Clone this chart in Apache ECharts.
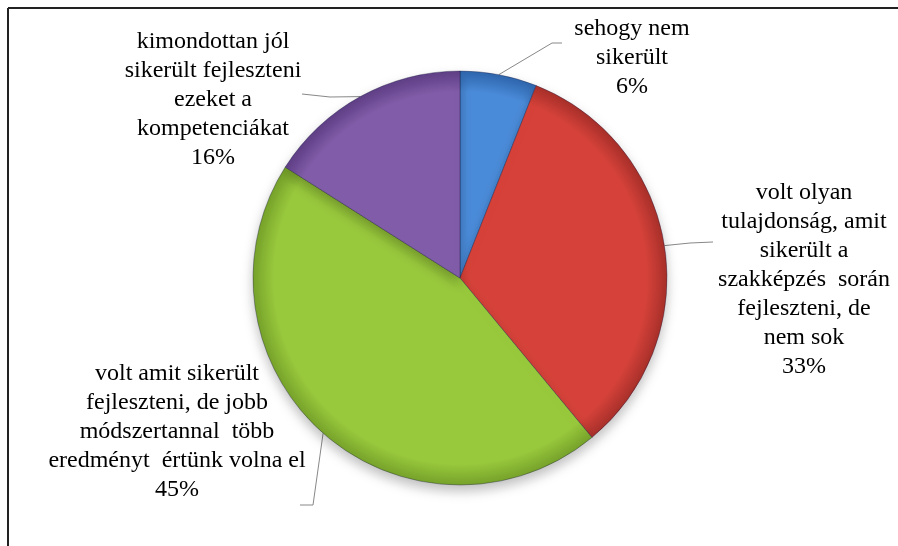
<!DOCTYPE html>
<html>
<head>
<meta charset="utf-8">
<script src="https://cdn.jsdelivr.net/npm/echarts@6/dist/echarts.min.js"></script>
<style>
  html, body { margin: 0; padding: 0; background: #fff; }
  #chart { width: 898px; height: 546px; }
</style>
</head>
<body>
<div id="chart"></div>
<script>
// kategóriák (sortörésekkel, ahogy a képen) és értékek
const categories = [
  'sehogy nem\nsikerült',
  'volt olyan\ntulajdonság, amit\nsikerült a\nszakképzés  során\nfejleszteni, de\nnem sok',
  'volt amit sikerült\nfejleszteni, de jobb\nmódszertannal  több\neredményt  értünk volna el',
  'kimondottan jól\nsikerült fejleszteni\nezeket a\nkompetenciákat'
];
const values = [6, 33, 45, 16];
const baseColors = ['#4a8bd9', '#d6423a', '#98c83c', '#815ca8'];
const darkColors = ['#2f66ad', '#a8302a', '#76a22a', '#5f3f86'];

// címkék középpontja és a vezetővonalak további pontjai
const labelPos = [[632, 58], [804, 280], [177, 432], [213, 100]];
const leaderPts = [
  [[552, 43], [562, 43]],
  [[690, 243], [713, 242]],
  [[313, 505], [300, 505]],
  [[330, 97], [302, 94]]
];

const cx = 460, cy = 278, r = 207;
const lineH = 29;

const chart = echarts.init(document.getElementById('chart'));

// címkeszöveg soronként, talpas betűvel
const labelTexts = [];
categories.forEach((name, i) => {
  const lines = name.split('\n').concat([values[i] + '%']);
  const n = lines.length;
  lines.forEach((l, k) => {
    labelTexts.push({
      type: 'text',
      x: labelPos[i][0],
      y: labelPos[i][1] + (k - (n - 1) / 2) * lineH,
      z: 10,
      style: {
        text: l,
        fontFamily: 'Liberation Serif',
        fontSize: 24,
        fill: '#000',
        align: 'center',
        verticalAlign: 'middle'
      }
    });
  });
});

const option = {
  backgroundColor: '#fff',
  animation: false,
  graphic: [
    { type: 'line', shape: { x1: 8, y1: 8, x2: 898, y2: 8 }, style: { stroke: '#222', lineWidth: 2 } },
    { type: 'line', shape: { x1: 8, y1: 8, x2: 8, y2: 546 }, style: { stroke: '#222', lineWidth: 2 } }
  ].concat(labelTexts),
  series: [{
    type: 'pie',
    center: [cx, cy],
    radius: r,
    startAngle: 90,
    clockwise: true,
    data: categories.map((name, i) => ({
      name: name,
      value: values[i],
      itemStyle: {
        color: {
          type: 'radial', x: cx, y: cy, r: r, global: true,
          colorStops: [
            { offset: 0, color: baseColors[i] },
            { offset: 0.9, color: baseColors[i] },
            { offset: 1, color: darkColors[i] }
          ]
        }
      }
    })),
    itemStyle: {
      borderColor: 'rgba(20,20,60,0.35)',
      borderWidth: 1,
      shadowBlur: 12,
      shadowOffsetY: 6,
      shadowColor: 'rgba(0,0,0,0.25)'
    },
    // a szöveget a graphic elemek adják, a pie címke csak a vezetővonalhoz kell
    label: {
      formatter: ' ',
      fontSize: 24
    },
    labelLine: {
      show: true,
      length: 20,
      length2: 10,
      lineStyle: { color: '#888', width: 1 }
    },
    labelLayout: function (params) {
      const i = params.dataIndex;
      const p = labelPos[i];
      const start = params.labelLinePoints ? params.labelLinePoints[0] : [cx, cy];
      return {
        x: p[0], y: p[1], align: 'center', verticalAlign: 'middle',
        labelLinePoints: [start].concat(leaderPts[i])
      };
    }
  }]
};

chart.setOption(option);
</script>
</body>
</html>
